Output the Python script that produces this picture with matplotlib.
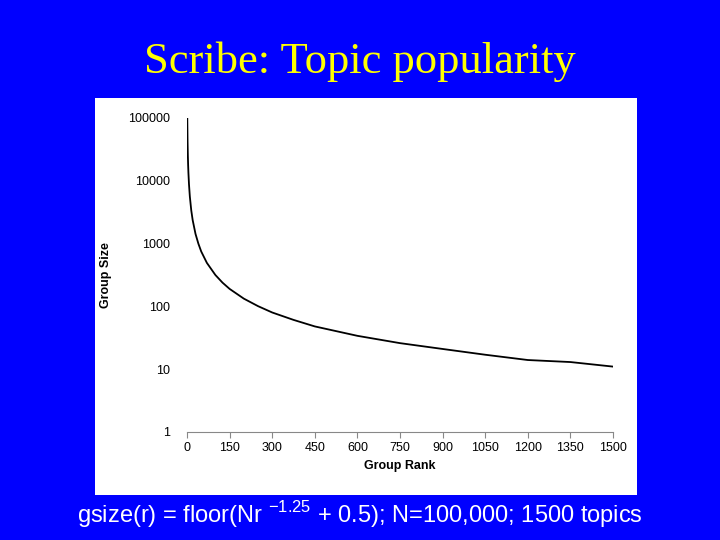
import matplotlib
matplotlib.use("Agg")
import matplotlib.pyplot as plt
from matplotlib.patches import Rectangle
from matplotlib.ticker import FixedLocator, NullLocator

ranks = [1, 2, 3, 4, 5, 7, 10, 15, 20, 30, 40, 50, 70, 100, 125, 150, 200, 250, 300, 375, 450, 600, 750, 900, 1050, 1200, 1350, 1500]
sizes = [100000, 42045, 25335, 17678, 13375, 8788, 5623, 3378, 2364, 1424, 1000, 750, 493, 316, 239, 190, 133, 101, 80, 61, 48, 34, 26, 21, 17, 14, 13, 11]
xticks = [0, 150, 300, 450, 600, 750, 900, 1050, 1200, 1350, 1500]
yticks = [1, 10, 100, 1000, 10000, 100000]

fig = plt.figure(figsize=(7.2, 5.4), dpi=100)
fig.patch.set_facecolor("#0000ff")
fig.patches.append(Rectangle((95/720, 1-495/540), 542/720, 397/540, transform=fig.transFigure,
                             facecolor="white", edgecolor="none", zorder=-5))
fig.text(0.5, 0.885, "Scribe: Topic popularity", ha="center", va="center", color="#ffff00",
         fontsize=32, family="Liberation Serif")
fig.text(0.5, 0.048, r"gsize(r) = floor(Nr $^{\mathregular{-1.25}}$ + 0.5); N=100,000; 1500 topics",
         ha="center", va="center", color="white", fontsize=17, family="Liberation Sans")

ax = fig.add_axes([187/720, 1-432/540, 426/720, 314/540], zorder=2)
ax.set_facecolor("white")
ax.plot(ranks, sizes, color="black", lw=1.3)
ax.set_yscale("log")
ax.set_xlim(0, 1500)
ax.set_ylim(1, 100000)
ax.xaxis.set_major_locator(FixedLocator(xticks))
ax.yaxis.set_major_locator(FixedLocator(yticks))
ax.yaxis.set_minor_locator(NullLocator())
ax.set_yticklabels([str(v) for v in yticks])
for s in ["top", "right", "left"]:
    ax.spines[s].set_visible(False)
ax.spines["bottom"].set_color("#888888")
ax.tick_params(axis="y", length=0, labelsize=9, pad=12)
ax.tick_params(axis="x", length=4, color="#888888", labelsize=9)
ax.set_xlabel("Group Rank", fontsize=9, fontweight="bold", family="Liberation Sans")
ax.set_ylabel("Group Size", fontsize=9, fontweight="bold", family="Liberation Sans", labelpad=12)
for lab in ax.get_xticklabels() + ax.get_yticklabels():
    lab.set_family("Liberation Sans")
fig.savefig("out.png", dpi=100, facecolor=fig.get_facecolor())
